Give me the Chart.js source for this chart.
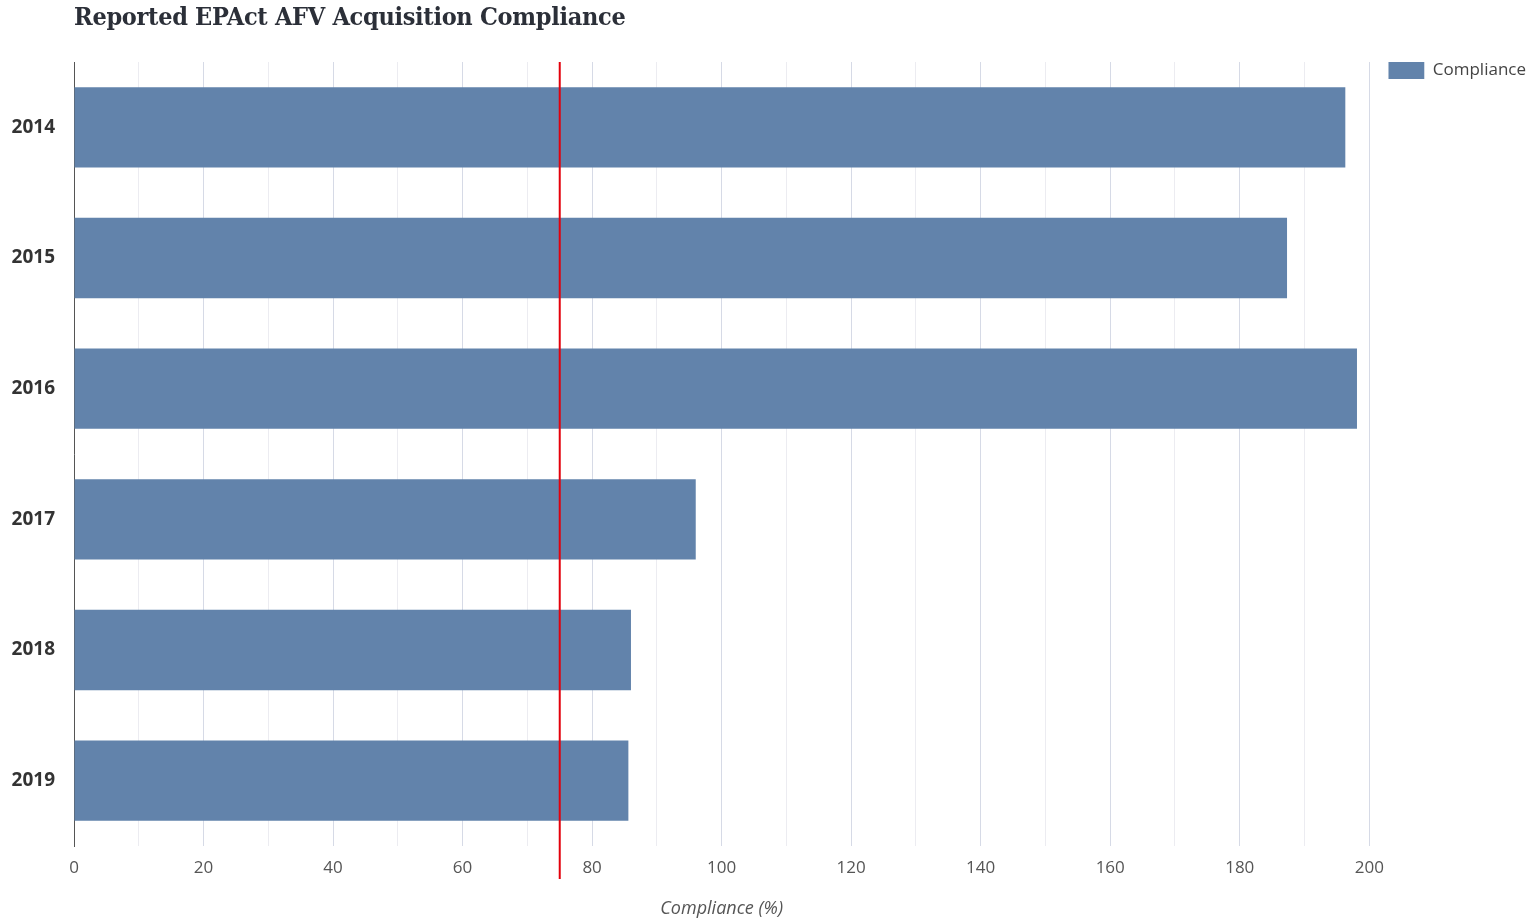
<!DOCTYPE html>
<html>
<head>
<meta charset="utf-8">
<script src="https://cdn.jsdelivr.net/npm/chart.js@4.4.1/dist/chart.umd.min.js"></script>
<style>
  body { margin: 0; background: #fff; }
  #wrap { position: relative; width: 1540px; height: 920px; }
  h1 {
    position: absolute; left: 74px; top: 2px; margin: 0;
    font-family: "DejaVu Serif Condensed", "DejaVu Serif", serif; font-weight: bold; font-size: 25px;
    color: #2b2f38; letter-spacing: -0.3px;
  }
</style>
</head>
<body>
<div id="wrap">
  <h1>Reported EPAct AFV Acquisition Compliance</h1>
  <canvas id="chart" width="1540" height="920"></canvas>
</div>
<script>
// data
const years = ['2014', '2015', '2016', '2017', '2018', '2019'];
const compliance = [196.3, 187.3, 198.1, 96.0, 86.0, 85.6];
const target = 75; // required compliance line

// red reference line at the target value
const targetLine = {
  id: 'targetLine',
  afterDatasetsDraw(chart) {
    const x = chart.scales.x.getPixelForValue(target);
    const ctx = chart.ctx;
    ctx.save();
    ctx.strokeStyle = '#e3000b';
    ctx.lineWidth = 2;
    ctx.beginPath();
    ctx.moveTo(x, chart.chartArea.top);
    ctx.lineTo(x, chart.chartArea.bottom + 33);
    ctx.stroke();
    ctx.restore();
  }
};

const font = "'Open Sans', sans-serif";

new Chart(document.getElementById('chart'), {
  type: 'bar',
  data: {
    labels: years,
    datasets: [{
      label: 'Compliance',
      data: compliance,
      backgroundColor: '#6283ab',
      categoryPercentage: 0.615,
      barPercentage: 1
    }]
  },
  options: {
    indexAxis: 'y',
    responsive: false,
    animation: false,
    layout: { padding: { top: 62, left: 10, right: 4, bottom: 0 } },
    plugins: {
      legend: {
        position: 'right',
        align: 'start',
        labels: {
          boxWidth: 36, boxHeight: 17, padding: 0,
          color: '#444', font: { family: font, size: 17 }
        }
      },
      tooltip: { enabled: false }
    },
    scales: {
      x: {
        min: 0, max: 200,
        ticks: {
          stepSize: 10, autoSkip: false, maxRotation: 0, padding: 12,
          color: '#555', font: { family: font, size: 17 },
          callback: v => (v % 20 === 0 ? v : '')
        },
        grid: {
          drawTicks: false,
          color: c => (c.tick && c.tick.value % 20 === 0 ? '#d6dae6' : '#ececf1')
        },
        border: { display: false },
        title: {
          display: true, text: 'Compliance (%)', color: '#555',
          font: { family: font, size: 18, style: 'italic' },
          padding: { top: 8, bottom: 0 }
        }
      },
      y: {
        grid: { display: false, drawTicks: false },
        border: { display: true, color: '#555' },
        ticks: {
          padding: 19, color: '#333',
          font: { family: font, size: 19, weight: 'bold' }
        },
        afterFit: s => { s.width = 64; }
      },
      // empty right-hand axis, only to leave a gap before the legend
      gap: {
        type: 'category',
        position: 'right',
        grid: { display: false },
        border: { display: false },
        ticks: { display: false },
        afterFit: s => { s.width = 19; }
      }
    }
  },
  plugins: [targetLine]
});
</script>
</body>
</html>
